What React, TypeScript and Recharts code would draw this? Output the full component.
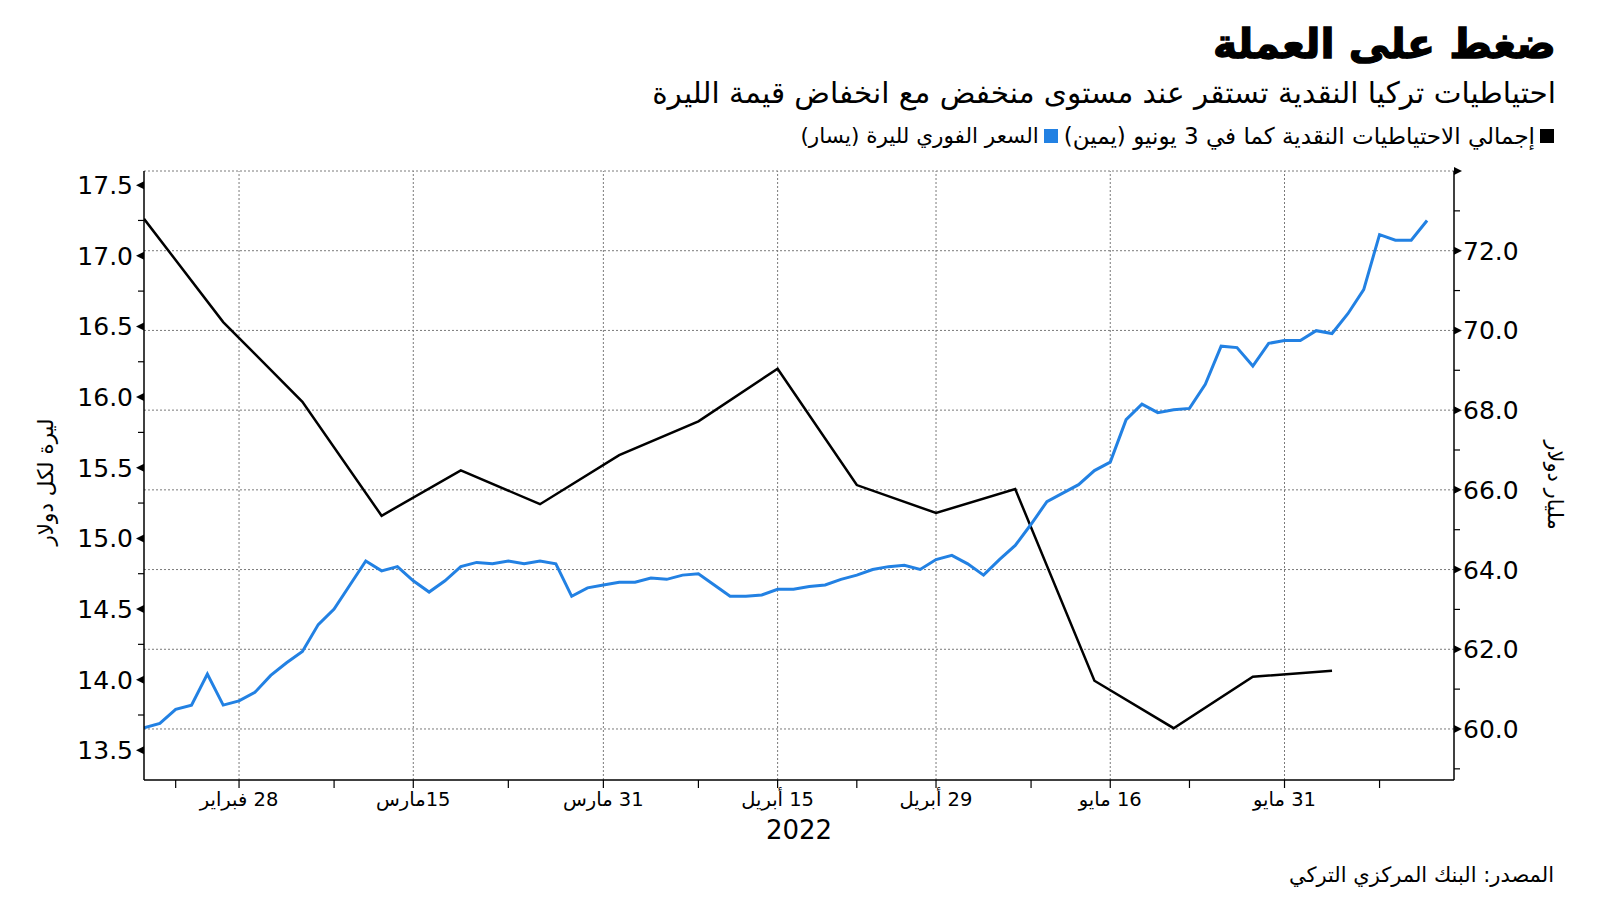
import React from 'react';
import { ComposedChart, Line, XAxis, YAxis, ReferenceLine } from 'recharts';

// Business-day index (0 = 18 Feb 2022) for the lira spot rate, one value per trading day
const liraRate: number[] = [
  13.66, 13.69, 13.79, 13.82, 14.04, 13.82, 13.85, 13.91, 14.03, 14.12,
  14.2, 14.39, 14.5, 14.67, 14.84, 14.77, 14.8, 14.7, 14.62, 14.7,
  14.8, 14.83, 14.82, 14.84, 14.82, 14.84, 14.82, 14.59, 14.65, 14.67,
  14.69, 14.69, 14.72, 14.71, 14.74, 14.75, 14.67, 14.59, 14.59, 14.6,
  14.64, 14.64, 14.66, 14.67, 14.71, 14.74, 14.78, 14.8, 14.81, 14.78,
  14.85, 14.88, 14.82, 14.74, 14.85, 14.95, 15.1, 15.26, 15.32, 15.38,
  15.48, 15.54, 15.84, 15.95, 15.89, 15.91, 15.92, 16.09, 16.36, 16.35,
  16.22, 16.38, 16.4, 16.4, 16.47, 16.45, 16.59, 16.76, 17.15, 17.11,
  17.11, 17.25,
];

// Weekly reserves (Fridays), business-day index and value in billion dollars
const reserveDays: number[] = [0, 5, 10, 15, 20, 25, 30, 35, 40, 45, 50, 55, 60, 65, 70, 75];
const reserves: number[] = [
  72.8, 70.21, 68.21, 65.35, 66.49, 65.64, 66.87, 67.72, 69.04, 66.12,
  65.42, 66.02, 61.21, 60.02, 61.31, 61.46,
];

const xTicks: number[] = [2, 6, 12, 17, 23, 29, 35, 40, 45, 50, 56, 61, 66, 72, 78];
const xMajorTicks: number[] = [6, 17, 29, 40, 50, 61, 72];
const xMajorLabels: string[] = ['28 فبراير', '15مارس', '31 مارس', '15 أبريل', '29 أبريل', '16 مايو', '31 مايو'];

const leftTicks: number[] = [13.5, 13.75, 14, 14.25, 14.5, 14.75, 15, 15.25, 15.5, 15.75, 16, 16.25, 16.5, 16.75, 17, 17.25, 17.5];
const rightTicks: number[] = [59, 60, 61, 62, 63, 64, 65, 66, 67, 68, 69, 70, 71, 72, 73, 74];
const rightGrid: number[] = [60, 62, 64, 66, 68, 70, 72, 74];

const BLUE = '#2281e3';
const NUM_FONT = 'DejaVu Sans, Verdana, sans-serif';
const AR_FONT = 'DejaVu Sans, sans-serif';

const blueData = liraRate.map((v, i) => ({ x: i, rate: v }));
const blackData = reserveDays.map((d, i) => ({ x: d, res: reserves[i] }));

const LeftTick = (props: any) => {
  const { x, y, payload } = props;
  const v: number = payload.value;
  const major = Math.abs(v * 2 - Math.round(v * 2)) < 1e-6;
  if (!major) return <line x1={x} x2={x - 6} y1={y} y2={y} stroke="#000" strokeWidth={1.2} />;
  return (
    <g>
      <polygon points={`${x},${y - 4} ${x},${y + 4} ${x - 8},${y}`} fill="#000" />
      <text x={x - 11} y={y} dy="0.36em" textAnchor="end" fontSize={25} fontFamily={NUM_FONT} fill="#000">
        {v.toFixed(1)}
      </text>
    </g>
  );
};

const RightTick = (props: any) => {
  const { x, y, payload } = props;
  const v: number = payload.value;
  const major = Math.round(v) % 2 === 0;
  if (!major) return <line x1={x} x2={x + 6} y1={y} y2={y} stroke="#000" strokeWidth={1.2} />;
  return (
    <g>
      <polygon points={`${x},${y - 4} ${x},${y + 4} ${x + 8},${y}`} fill="#000" />
      {v < 73.5 && (
        <text x={x + 9} y={y} dy="0.36em" textAnchor="start" fontSize={25} fontFamily={NUM_FONT} fill="#000">
          {v.toFixed(1)}
        </text>
      )}
    </g>
  );
};

const BottomTick = (props: any) => {
  const { x, y, payload } = props;
  const v: number = payload.value;
  const k = xMajorTicks.indexOf(v);
  return (
    <g>
      <line x1={x} x2={x} y1={y} y2={y + 8} stroke="#000" strokeWidth={1.2} />
      {k >= 0 && (
        <text x={x} y={y + 26} textAnchor="middle" direction="rtl" fontSize={19.5} fontFamily={AR_FONT} fill="#000">
          {xMajorLabels[k]}
        </text>
      )}
    </g>
  );
};

const abs = (o: React.CSSProperties): React.CSSProperties => ({ position: 'absolute', whiteSpace: 'nowrap', ...o });

export default function App() {
  return (
    <div style={{ position: 'absolute', left: 0, top: 0, width: 1600, height: 901, background: '#fff', overflow: 'hidden' }}>
      <ComposedChart
        width={1600}
        height={901}
        data={blueData}
        margin={{ top: 171, right: 8, bottom: 61, left: 8 }}
      >
        <XAxis
          dataKey="x"
          type="number"
          domain={[0, 82.7]}
          ticks={xTicks}
          interval={0}
          tick={<BottomTick />}
          tickSize={0}
          tickMargin={0}
          tickLine={false}
          axisLine={{ stroke: '#000', strokeWidth: 1.5 }}
          height={60}
          allowDataOverflow
        />
        <YAxis
          yAxisId="left"
          orientation="left"
          type="number"
          domain={[13.29, 17.6]}
          ticks={leftTicks}
          interval={0}
          tick={<LeftTick />}
          tickSize={0}
          tickMargin={0}
          tickLine={false}
          axisLine={{ stroke: '#000', strokeWidth: 1.5 }}
          width={136}
          allowDataOverflow
        />
        <YAxis
          yAxisId="right"
          orientation="right"
          type="number"
          domain={[58.72, 74]}
          ticks={rightTicks}
          interval={0}
          tick={<RightTick />}
          tickSize={0}
          tickMargin={0}
          tickLine={false}
          axisLine={{ stroke: '#000', strokeWidth: 1.5 }}
          width={138}
          allowDataOverflow
        />
        {rightGrid.map((v) => (
          <ReferenceLine key={'h' + v} yAxisId="right" y={v} stroke="#7a7a7a" strokeWidth={1} strokeDasharray="2 2" />
        ))}
        {xMajorTicks.map((v) => (
          <ReferenceLine key={'v' + v} yAxisId="right" x={v} stroke="#7a7a7a" strokeWidth={1} strokeDasharray="2 2" />
        ))}
        <Line
          yAxisId="right"
          data={blackData}
          dataKey="res"
          type="linear"
          stroke="#000"
          strokeWidth={2.5}
          dot={false}
          isAnimationActive={false}
        />
        <Line
          yAxisId="left"
          dataKey="rate"
          type="linear"
          stroke={BLUE}
          strokeWidth={3}
          dot={false}
          isAnimationActive={false}
        />
      </ComposedChart>

      <div dir="rtl" style={abs({ right: 44, top: 20, fontFamily: AR_FONT, fontWeight: 700, fontSize: 41, lineHeight: '48px', color: '#000', WebkitTextStroke: '1.3px #000' })}>
        ضغط على العملة
      </div>
      <div dir="rtl" style={abs({ right: 44, top: 76, fontFamily: AR_FONT, fontSize: 29.5, lineHeight: '34px', color: '#000' })}>
        احتياطيات تركيا النقدية تستقر عند مستوى منخفض مع انخفاض قيمة الليرة
      </div>
      <div dir="rtl" style={abs({ right: 46, top: 121, fontFamily: AR_FONT, lineHeight: '30px', color: '#000', display: 'flex', alignItems: 'center' })}>
        <span style={{ display: 'inline-block', width: 14, height: 14, background: '#000', marginLeft: 5 }} />
        <span style={{ fontSize: 23 }}>إجمالي الاحتياطيات النقدية كما في 3 يونيو (يمين)</span>
        <span style={{ display: 'inline-block', width: 14, height: 14, background: BLUE, marginLeft: 5, marginRight: 6 }} />
        <span style={{ fontSize: 21.5 }}>السعر الفوري لليرة (يسار)</span>
      </div>
      <div dir="rtl" style={abs({ left: 46, top: 482, fontFamily: AR_FONT, fontSize: 21.5, lineHeight: '24px', transform: 'translate(-50%, -50%) rotate(-90deg)' })}>
        ليرة لكل دولار
      </div>
      <div dir="rtl" style={abs({ left: 1555, top: 485, fontFamily: AR_FONT, fontSize: 21, lineHeight: '24px', transform: 'translate(-50%, -50%) rotate(90deg)' })}>
        مليار دولار
      </div>
      <div style={abs({ left: 799, top: 815, fontFamily: NUM_FONT, fontSize: 26, lineHeight: '30px', transform: 'translateX(-50%)' })}>
        2022
      </div>
      <div dir="rtl" style={abs({ right: 46, top: 861, fontFamily: AR_FONT, fontSize: 21, lineHeight: '28px' })}>
        المصدر: البنك المركزي التركي
      </div>
    </div>
  );
}
